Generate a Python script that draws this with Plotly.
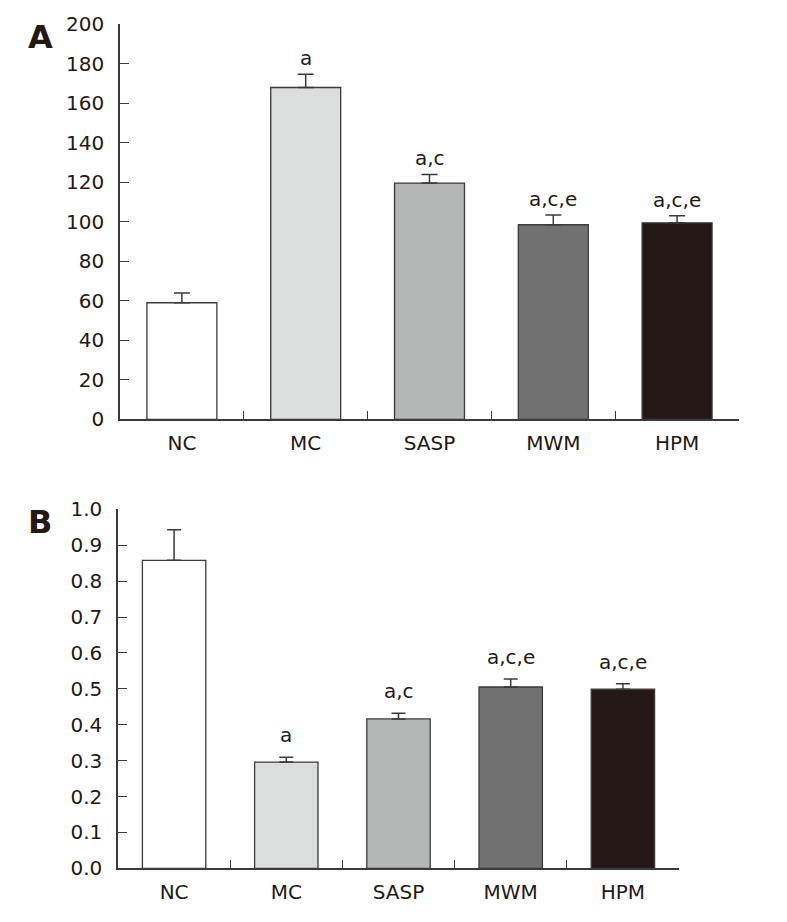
import plotly.graph_objects as go

categories = ["NC", "MC", "SASP", "MWM", "HPM"]
colors = ["#ffffff", "#dcdddd", "#b5b6b6", "#717171", "#231816"]

a_values = [59.0, 168.0, 119.6, 98.5, 99.5]
a_errors = [5.0, 6.7, 4.4, 4.9, 3.6]
a_labels = ["", "a", "a,c", "a,c,e", "a,c,e"]
a_ticks = [0, 20, 40, 60, 80, 100, 120, 140, 160, 180, 200]

b_values = [0.858, 0.296, 0.416, 0.505, 0.499]
b_errors = [0.085, 0.013, 0.016, 0.022, 0.015]
b_labels = ["", "a", "a,c", "a,c,e", "a,c,e"]
b_ticks = [0.0, 0.1, 0.2, 0.3, 0.4, 0.5, 0.6, 0.7, 0.8, 0.9, 1.0]

FONT = "DejaVu Sans, sans-serif"
INK = "#231815"
LINE = "#3a3a3a"
W, H = 787, 922
OFF = 8  # page body margin


def px_x(p):
    return (p - OFF) / W


def px_y(p):
    return 1 - (p - OFF) / H


fig = go.Figure()

fig.add_trace(go.Bar(
    x=categories, y=a_values, xaxis="x", yaxis="y",
    marker=dict(color=colors, line=dict(color=LINE, width=1.3)),
    error_y=dict(type="data", symmetric=False, array=a_errors,
                 arrayminus=[0] * len(a_errors), color=LINE, thickness=1.5, width=8),
    showlegend=False, hoverinfo="skip",
))
fig.add_trace(go.Bar(
    x=categories, y=b_values, xaxis="x2", yaxis="y2",
    marker=dict(color=colors, line=dict(color=LINE, width=1.3)),
    error_y=dict(type="data", symmetric=False, array=b_errors,
                 arrayminus=[0] * len(b_errors), color=LINE, thickness=1.5, width=7),
    showlegend=False, hoverinfo="skip",
))

annotations = []
for c, v, e, t in zip(categories, a_values, a_errors, a_labels):
    if t:
        annotations.append(dict(x=c, y=v + e, xref="x", yref="y", text=t,
                                showarrow=False, yanchor="bottom", yshift=2,
                                font=dict(family=FONT, size=20, color=INK)))
for c, v, e, t in zip(categories, b_values, b_errors, b_labels):
    if t:
        annotations.append(dict(x=c, y=v + e, xref="x2", yref="y2", text=t,
                                showarrow=False, yanchor="bottom", yshift=8,
                                font=dict(family=FONT, size=20, color=INK)))
annotations.append(dict(x=px_x(26), y=px_y(16), xref="paper", yref="paper", text="<b>A</b>",
                        showarrow=False, xanchor="left", yanchor="top",
                        font=dict(family=FONT, size=32, color=INK)))
annotations.append(dict(x=px_x(26), y=px_y(501), xref="paper", yref="paper", text="<b>B</b>",
                        showarrow=False, xanchor="left", yanchor="top",
                        font=dict(family=FONT, size=32, color=INK)))

xcommon = dict(type="category", showline=True, linecolor=LINE, linewidth=1.5,
               ticks="inside", ticklen=9, tickwidth=1.3, tickcolor=LINE,
               tickson="boundaries", range=[-0.5, 4.5], showgrid=False,
               automargin=False,
               tickfont=dict(family=FONT, size=20, color=INK), ticklabelstandoff=5)
ycommon = dict(showline=True, linecolor=LINE, linewidth=1.5,
               ticks="inside", ticklen=9, tickwidth=1.3, tickcolor=LINE,
               showgrid=False, zeroline=False, automargin=False,
               tickfont=dict(family=FONT, size=20, color=INK), ticklabelstandoff=10)

fig.update_layout(
    width=W, height=H,
    margin=dict(l=0, r=0, t=0, b=0, autoexpand=False),
    paper_bgcolor="white", plot_bgcolor="white",
    bargap=0.435,
    annotations=annotations,
    xaxis=dict(xcommon, domain=[px_x(120), px_x(739)], anchor="y"),
    yaxis=dict(ycommon, domain=[px_y(419.3), px_y(24.3)], anchor="x",
               range=[0, 200], tickmode="array", tickvals=a_ticks,
               ticktext=[str(t) for t in a_ticks]),
    xaxis2=dict(xcommon, domain=[px_x(118), px_x(679)], anchor="y2"),
    yaxis2=dict(ycommon, domain=[px_y(868.3), px_y(509.3)], anchor="x2",
                range=[0, 1.0], tickmode="array", tickvals=b_ticks,
                ticktext=[f"{t:.1f}" for t in b_ticks]),
)

fig.write_html("out.html")
